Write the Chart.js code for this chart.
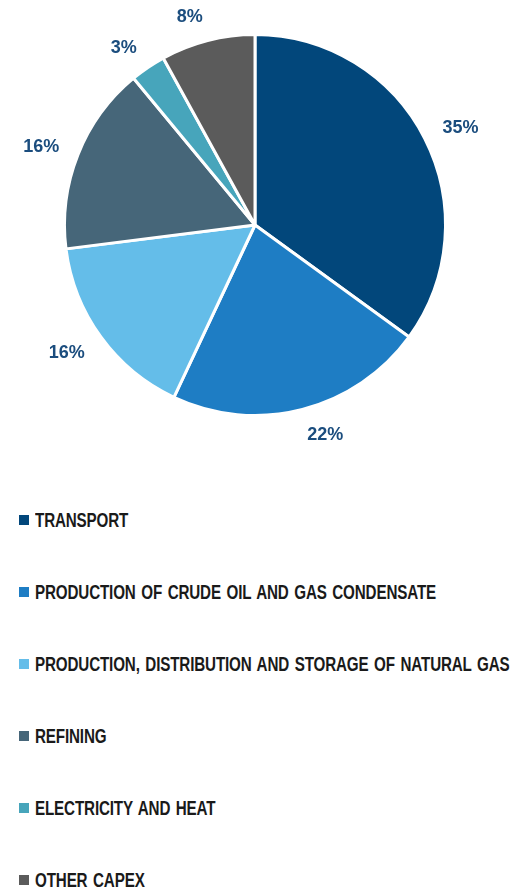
<!DOCTYPE html>
<html>
<head>
<meta charset="utf-8">
<script src="https://cdn.jsdelivr.net/npm/chart.js@4"></script>
<style>
    body { margin: 0; background: #fff; }
    #wrap { position: relative; width: 526px; height: 484px; }
    #legend { width: 526px; }
    .row { height: 72px; display: flex; align-items: center; padding-left: 19px; }
    .box { width: 10px; height: 10px; margin-right: 6px; flex: none; }
    .txt { font-family: "Liberation Sans", Arial, sans-serif; font-weight: bold; font-size: 20px; color: #1a1a1a; white-space: nowrap; display: inline-block; transform: scaleX(0.76); transform-origin: left center; letter-spacing: -0.2px; word-spacing: 2px; }
</style>
</head>
<body>
<div id="wrap"><canvas id="capexChart"></canvas></div>
<div id="legend"></div>
<script>
const categories = [
    'TRANSPORT',
    'PRODUCTION OF CRUDE OIL AND GAS CONDENSATE',
    'PRODUCTION, DISTRIBUTION AND STORAGE OF NATURAL GAS',
    'REFINING',
    'ELECTRICITY AND HEAT',
    'OTHER CAPEX'
];
const shares = [35, 22, 16, 16, 3, 8];
const colors = ['#02477b', '#1e7dc4', '#64bde9', '#466679', '#47a5bb', '#5b5b5b'];

// percent labels outside the slices, box placed beside the rim
const outsideLabels = {
    id: 'outsideLabels',
    afterDatasetsDraw(chart) {
        const ctx = chart.ctx;
        const meta = chart.getDatasetMeta(0);
        ctx.save();
        ctx.font = 'bold 18px "Liberation Sans", Arial, sans-serif';
        ctx.fillStyle = '#1b4d7e';
        ctx.textAlign = 'center';
        ctx.textBaseline = 'middle';
        meta.data.forEach((arc, i) => {
            const p = arc.getProps(['x', 'y', 'startAngle', 'endAngle', 'outerRadius'], true);
            const mid = (p.startAngle + p.endAngle) / 2;
            const text = shares[i] + '%';
            const w = ctx.measureText(text).width;
            const d = p.outerRadius + 20;
            const cx = p.x + Math.cos(mid) * d + Math.sign(Math.cos(mid)) * w / 2;
            const cy = p.y + Math.sin(mid) * d + Math.sin(mid) * 5 + 1;
            ctx.fillText(text, cx, cy);
        });
        ctx.restore();
    }
};

const ctx = document.getElementById('capexChart').getContext('2d');
const capexChart = new Chart(ctx, {
    type: 'pie',
    data: {
        labels: categories,
        datasets: [{
            data: shares,
            backgroundColor: colors,
            borderColor: '#ffffff',
            borderWidth: 3
        }]
    },
    options: {
        responsive: true,
        maintainAspectRatio: false,
        animation: false,
        layout: {
            padding: { top: 33, bottom: 67, left: 63, right: 79 }
        },
        plugins: {
            legend: { display: false },
            tooltip: { enabled: false }
        }
    },
    plugins: [outsideLabels]
});

const legend = document.getElementById('legend');
categories.forEach((name, i) => {
    const row = document.createElement('div');
    row.className = 'row';
    row.innerHTML = '<span class="box" style="background:' + colors[i] + '"></span><span class="txt">' + name + '</span>';
    legend.appendChild(row);
});
</script>
</body>
</html>
